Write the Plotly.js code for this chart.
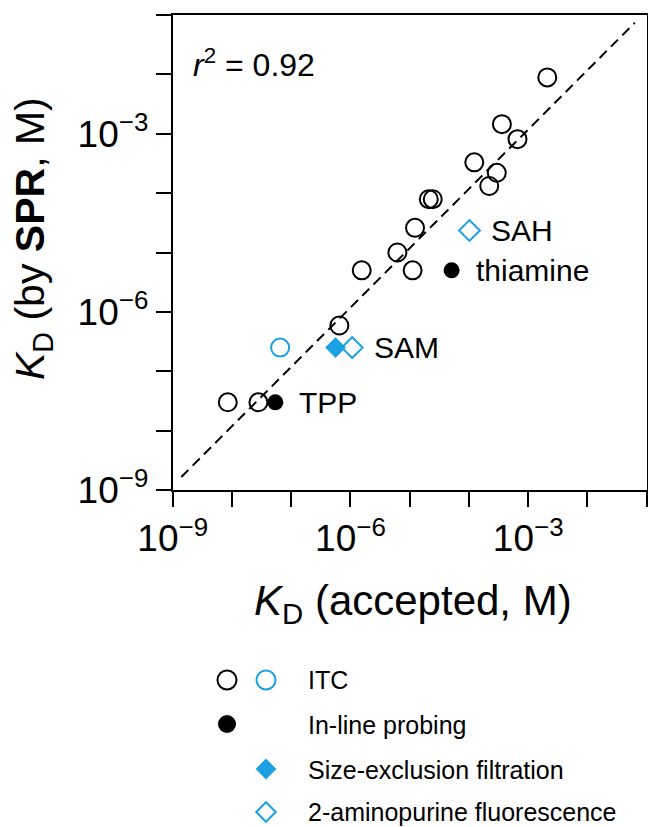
<!DOCTYPE html>
<html><head><meta charset="utf-8">
<script src="https://cdn.plot.ly/plotly-3.0.1.min.js"></script>
<style>html,body{margin:0;padding:0;background:#fff}#chart{width:648px;height:827px}</style>
</head><body><div id="chart"></div>
<script>
const W = 648, H = 827;
// ---- data (KD in M) ----
const itcBlackX = [2.1e-3, 3.6e-4, 6.6e-4, 1.23e-4, 2.95e-4, 2.2e-4, 2.1e-5, 2.45e-5, 1.23e-5, 6.2e-6, 1.55e-6, 1.12e-5, 6.5e-7, 8.5e-9, 2.8e-8];
const itcBlackY = [8.9e-3, 1.45e-3, 8.1e-4, 3.3e-4, 2.2e-4, 1.32e-4, 7.9e-5, 7.9e-5, 2.6e-5, 1.0e-5, 5.0e-6, 5.0e-6, 5.9e-7, 3.0e-8, 3.0e-8];
const itcBlueX = [6.5e-8];
const itcBlueY = [2.5e-7];
const inlineX = [5.1e-5, 5.4e-8];
const inlineY = [5.0e-6, 3.0e-8];
const inlineLabels = ['thiamine', 'TPP'];
const secX = [5.6e-7];
const secY = [2.5e-7];
const apX = [1.07e-6, 1.02e-4];
const apY = [2.5e-7, 2.35e-5];
const apLabels = ['SAM', 'SAH'];
const fitX = [1.4e-9, 6.3e-2];
const fitY = [1.66e-9, 7.4e-2];
const r2 = 0.92;
const majorTickVals = [1e-9, 1e-6, 1e-3];
const majorTickText = ['10<sup>−9</sup>', '10<sup>−6</sup>', '10<sup>−3</sup>'];
const minorTickVals = [1e-8, 1e-7, 1e-5, 1e-4, 1e-2, 1e-1];
const legendLabels = ['ITC', 'In-line probing', 'Size-exclusion filtration', '2-aminopurine fluorescence'];

// ---- styles ----
const BLUE = '#1ba1e2';
const FONT = 'Liberation Sans, Arial, Helvetica, sans-serif';
const openCircle = c => ({symbol: 'circle-open', size: 18, color: c, line: {width: 2, color: c}});
const px = x => x / W, py = y => 1 - y / H;

const traces = [
  {x: fitX, y: fitY, mode: 'lines', line: {color: '#000', width: 2, dash: '10px,6px'}, hoverinfo: 'skip'},
  {x: itcBlackX, y: itcBlackY, mode: 'markers', marker: openCircle('#000')},
  {x: itcBlueX, y: itcBlueY, mode: 'markers', marker: openCircle(BLUE)},
  {x: secX, y: secY, mode: 'markers', marker: {symbol: 'diamond', size: 16, color: BLUE, line: {width: 0}}},
  {x: apX, y: apY, mode: 'markers', marker: {symbol: 'diamond-open', size: 16, color: BLUE, line: {width: 2, color: BLUE}}},
  {x: inlineX, y: inlineY, mode: 'markers', marker: {symbol: 'circle', size: 16, color: '#000'}},
  // legend symbols (pixel helper axes)
  {x: [227, 266], y: [680, 680], xaxis: 'x2', yaxis: 'y2', mode: 'markers', cliponaxis: false,
   marker: {symbol: 'circle-open', size: 19, color: ['#000', BLUE], line: {width: 2, color: ['#000', BLUE]}}},
  {x: [227], y: [724], xaxis: 'x2', yaxis: 'y2', mode: 'markers', cliponaxis: false,
   marker: {symbol: 'circle', size: 18, color: '#000'}},
  {x: [266], y: [769], xaxis: 'x2', yaxis: 'y2', mode: 'markers', cliponaxis: false,
   marker: {symbol: 'diamond', size: 16, color: BLUE}},
  {x: [266], y: [812], xaxis: 'x2', yaxis: 'y2', mode: 'markers', cliponaxis: false,
   marker: {symbol: 'diamond-open', size: 15, color: BLUE, line: {width: 2, color: BLUE}}}
];

const axisCommon = {
  type: 'log', range: [-9, -1], tickmode: 'array', tickvals: majorTickVals, ticktext: majorTickText,
  ticks: 'outside', ticklen: 15, tickwidth: 2, tickcolor: '#000',
  minor: {tickmode: 'array', tickvals: minorTickVals, ticks: 'outside', ticklen: 15, tickwidth: 2, tickcolor: '#000', showgrid: false},
  showline: true, linewidth: 2, linecolor: '#000', mirror: true,
  showgrid: false, zeroline: false,
  tickfont: {family: FONT, size: 37, color: '#000'}
};

const annotations = [];
// point labels
[[inlineX, inlineY, inlineLabels, 22], [apX, apY, apLabels, 20]].forEach(([xs, ys, ls, sh]) => {
  xs.forEach((v, i) => annotations.push({x: Math.log10(v), y: Math.log10(ys[i]), xref: 'x', yref: 'y',
    text: ls[i], showarrow: false, xanchor: 'left', yanchor: 'middle', xshift: sh,
    font: {family: FONT, size: 30, color: '#000'}}));
});
// r^2
annotations.push({x: px(191), y: py(63), xref: 'paper', yref: 'paper', xanchor: 'left', yanchor: 'middle',
  text: '<i>r</i><sup>2</sup> = ' + r2.toFixed(2), showarrow: false, font: {family: FONT, size: 32, color: '#000'}});
// axis titles
annotations.push({x: px(413), y: py(603), xref: 'paper', yref: 'paper', xanchor: 'center', yanchor: 'middle',
  text: '<i>K</i><sub>D</sub> (accepted, M)', showarrow: false, font: {family: FONT, size: 42, color: '#000'}});
annotations.push({x: px(33), y: py(239), xref: 'paper', yref: 'paper', xanchor: 'center', yanchor: 'middle',
  textangle: -90, text: '<i>K</i><sub>D</sub> (by <b>SPR</b>, M)', showarrow: false,
  font: {family: FONT, size: 41, color: '#000'}});
// legend texts
const legendRows = [680, 725, 770, 812];
legendLabels.forEach((t, i) => annotations.push({x: 306, y: legendRows[i], xref: 'x2', yref: 'y2',
  xanchor: 'left', yanchor: 'middle', text: t, showarrow: false, font: {family: FONT, size: 25, color: '#000'}}));

const layout = {
  width: W, height: H, margin: {l: 0, r: 0, t: 0, b: 0},
  paper_bgcolor: '#fff', plot_bgcolor: 'rgba(0,0,0,0)', showlegend: false,
  font: {family: FONT, color: '#000'},
  xaxis: Object.assign({}, axisCommon, {domain: [172.7 / W, 646.7 / W], anchor: 'y'}),
  yaxis: Object.assign({}, axisCommon, {domain: [(H - 490) / H, (H - 15) / H], anchor: 'x'}),
  xaxis2: {domain: [0, 1], range: [0, W], visible: false, anchor: 'y2', fixedrange: true},
  yaxis2: {domain: [0, (H - 620) / H], range: [H, 620], visible: false, anchor: 'x2', fixedrange: true},
  annotations: annotations
};

Plotly.newPlot('chart', traces, layout, {displayModeBar: false, staticPlot: true});
</script>
</body></html>
